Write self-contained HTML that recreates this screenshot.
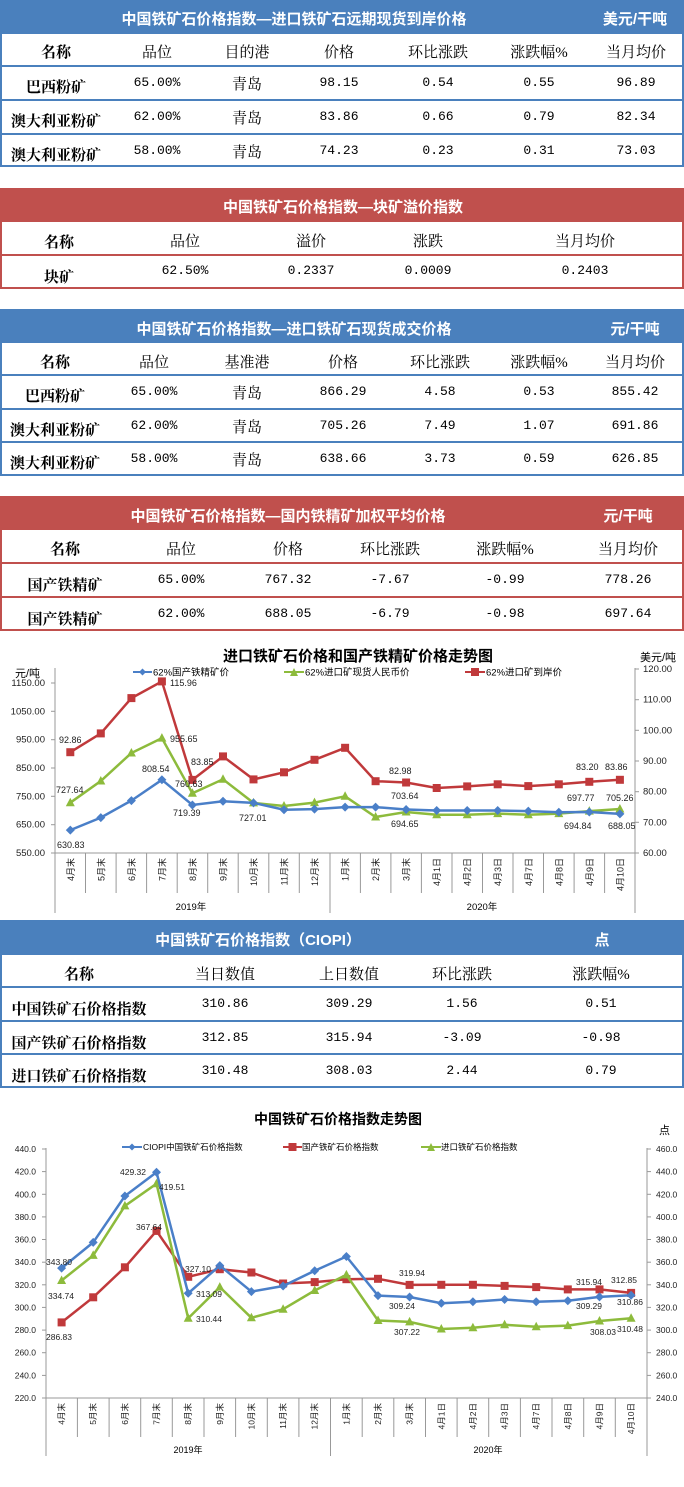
<!DOCTYPE html>
<html><head><meta charset="utf-8">
<style>
*{margin:0;padding:0;box-sizing:border-box}
body{width:684px;height:1487px;background:#fff;position:relative;overflow:hidden;font-family:"Liberation Serif","Noto Serif CJK SC",serif}
.t{position:absolute;left:0;width:684px}
.hd{position:absolute;left:0;width:684px;color:#fff;font-family:"Liberation Sans","Noto Sans CJK SC",sans-serif;font-weight:bold;font-size:15px}
.c{position:absolute;transform:translateX(-50%);white-space:nowrap}
.row{position:absolute;left:0;width:684px;font-size:15px;color:#000}
.b{font-weight:bold}
.n{font-family:"Liberation Mono",monospace;font-size:13px}
svg text{font-family:"Liberation Sans","Noto Sans CJK SC",sans-serif}
</style></head><body>

<!-- Table 1 -->
<div class="t" style="top:0;height:167px;border:2px solid #4a80bd;border-top:none"></div>
<div class="hd" style="top:0;height:34px;background:#4a80bd"><span class="c" style="left:294px;top:8px">中国铁矿石价格指数—进口铁矿石远期现货到岸价格</span><span class="c" style="left:635px;top:8px">美元/干吨</span></div>
<div class="row" style="top:34px;height:33px;border-bottom:2px solid #4a80bd"><span class="c b" style="left:56px;top:7px">名称</span><span class="c" style="left:157px;top:7px">品位</span><span class="c" style="left:247px;top:7px">目的港</span><span class="c" style="left:339px;top:7px">价格</span><span class="c" style="left:438px;top:7px">环比涨跌</span><span class="c" style="left:539px;top:7px">涨跌幅%</span><span class="c" style="left:636px;top:7px">当月均价</span></div>
<div class="row" style="top:67px;height:34px;border-bottom:2px solid #4a80bd"><span class="c b" style="left:56px;top:9px">巴西粉矿</span><span class="c n" style="left:157px;top:8px">65.00%</span><span class="c" style="left:247px;top:6px">青岛</span><span class="c n" style="left:339px;top:8px">98.15</span><span class="c n" style="left:438px;top:8px">0.54</span><span class="c n" style="left:539px;top:8px">0.55</span><span class="c n" style="left:636px;top:8px">96.89</span></div>
<div class="row" style="top:101px;height:34px;border-bottom:2px solid #4a80bd"><span class="c b" style="left:56px;top:9px">澳大利亚粉矿</span><span class="c n" style="left:157px;top:8px">62.00%</span><span class="c" style="left:247px;top:6px">青岛</span><span class="c n" style="left:339px;top:8px">83.86</span><span class="c n" style="left:438px;top:8px">0.66</span><span class="c n" style="left:539px;top:8px">0.79</span><span class="c n" style="left:636px;top:8px">82.34</span></div>
<div class="row" style="top:135px;height:32px"><span class="c b" style="left:56px;top:9px">澳大利亚粉矿</span><span class="c n" style="left:157px;top:8px">58.00%</span><span class="c" style="left:247px;top:6px">青岛</span><span class="c n" style="left:339px;top:8px">74.23</span><span class="c n" style="left:438px;top:8px">0.23</span><span class="c n" style="left:539px;top:8px">0.31</span><span class="c n" style="left:636px;top:8px">73.03</span></div>

<!-- Table 2 -->
<div class="t" style="top:188px;height:101px;border:2px solid #c0504d;border-top:none"></div>
<div class="hd" style="top:188px;height:34px;background:#c0504d"><span class="c" style="left:343px;top:8px">中国铁矿石价格指数—块矿溢价指数</span></div>
<div class="row" style="top:222px;height:34px;border-bottom:2px solid #c0504d"><span class="c b" style="left:59px;top:9px">名称</span><span class="c" style="left:185px;top:8px">品位</span><span class="c" style="left:311px;top:8px">溢价</span><span class="c" style="left:428px;top:8px">涨跌</span><span class="c" style="left:585px;top:8px">当月均价</span></div>
<div class="row" style="top:256px;height:33px"><span class="c b" style="left:59px;top:10px">块矿</span><span class="c n" style="left:185px;top:7px">62.50%</span><span class="c n" style="left:311px;top:7px">0.2337</span><span class="c n" style="left:428px;top:7px">0.0009</span><span class="c n" style="left:585px;top:7px">0.2403</span></div>

<!-- Table 3 -->
<div class="t" style="top:309px;height:167px;border:2px solid #4a80bd;border-top:none"></div>
<div class="hd" style="top:309px;height:34px;background:#4a80bd"><span class="c" style="left:294px;top:9px">中国铁矿石价格指数—进口铁矿石现货成交价格</span><span class="c" style="left:635px;top:9px">元/干吨</span></div>
<div class="row" style="top:343px;height:33px;border-bottom:2px solid #4a80bd"><span class="c b" style="left:55px;top:8px">名称</span><span class="c" style="left:154px;top:8px">品位</span><span class="c" style="left:247px;top:8px">基准港</span><span class="c" style="left:343px;top:8px">价格</span><span class="c" style="left:440px;top:8px">环比涨跌</span><span class="c" style="left:539px;top:8px">涨跌幅%</span><span class="c" style="left:635px;top:8px">当月均价</span></div>
<div class="row" style="top:376px;height:34px;border-bottom:2px solid #4a80bd"><span class="c b" style="left:55px;top:9px">巴西粉矿</span><span class="c n" style="left:154px;top:8px">65.00%</span><span class="c" style="left:247px;top:6px">青岛</span><span class="c n" style="left:343px;top:8px">866.29</span><span class="c n" style="left:440px;top:8px">4.58</span><span class="c n" style="left:539px;top:8px">0.53</span><span class="c n" style="left:635px;top:8px">855.42</span></div>
<div class="row" style="top:410px;height:33px;border-bottom:2px solid #4a80bd"><span class="c b" style="left:55px;top:9px">澳大利亚粉矿</span><span class="c n" style="left:154px;top:8px">62.00%</span><span class="c" style="left:247px;top:6px">青岛</span><span class="c n" style="left:343px;top:8px">705.26</span><span class="c n" style="left:440px;top:8px">7.49</span><span class="c n" style="left:539px;top:8px">1.07</span><span class="c n" style="left:635px;top:8px">691.86</span></div>
<div class="row" style="top:443px;height:33px"><span class="c b" style="left:55px;top:9px">澳大利亚粉矿</span><span class="c n" style="left:154px;top:8px">58.00%</span><span class="c" style="left:247px;top:6px">青岛</span><span class="c n" style="left:343px;top:8px">638.66</span><span class="c n" style="left:440px;top:8px">3.73</span><span class="c n" style="left:539px;top:8px">0.59</span><span class="c n" style="left:635px;top:8px">626.85</span></div>

<!-- Table 4 -->
<div class="t" style="top:496px;height:135px;border:2px solid #c0504d;border-top:none"></div>
<div class="hd" style="top:496px;height:34px;background:#c0504d"><span class="c" style="left:288px;top:9px">中国铁矿石价格指数—国内铁精矿加权平均价格</span><span class="c" style="left:628px;top:9px">元/干吨</span></div>
<div class="row" style="top:530px;height:34px;border-bottom:2px solid #c0504d"><span class="c b" style="left:65px;top:8px">名称</span><span class="c" style="left:181px;top:8px">品位</span><span class="c" style="left:288px;top:8px">价格</span><span class="c" style="left:390px;top:8px">环比涨跌</span><span class="c" style="left:505px;top:8px">涨跌幅%</span><span class="c" style="left:628px;top:8px">当月均价</span></div>
<div class="row" style="top:564px;height:34px;border-bottom:2px solid #c0504d"><span class="c b" style="left:65px;top:10px">国产铁精矿</span><span class="c n" style="left:181px;top:8px">65.00%</span><span class="c n" style="left:288px;top:8px">767.32</span><span class="c n" style="left:390px;top:8px">-7.67</span><span class="c n" style="left:505px;top:8px">-0.99</span><span class="c n" style="left:628px;top:8px">778.26</span></div>
<div class="row" style="top:598px;height:33px"><span class="c b" style="left:65px;top:10px">国产铁精矿</span><span class="c n" style="left:181px;top:8px">62.00%</span><span class="c n" style="left:288px;top:8px">688.05</span><span class="c n" style="left:390px;top:8px">-6.79</span><span class="c n" style="left:505px;top:8px">-0.98</span><span class="c n" style="left:628px;top:8px">697.64</span></div>

<!-- Table 5 -->
<div class="t" style="top:920px;height:168px;border:2px solid #4a80bd;border-top:none"></div>
<div class="hd" style="top:920px;height:35px;background:#4a80bd"><span class="c" style="left:258px;top:9px">中国铁矿石价格指数（CIOPI）</span><span class="c" style="left:602px;top:9px">点</span></div>
<div class="row" style="top:955px;height:33px;border-bottom:2px solid #4a80bd"><span class="c b" style="left:79px;top:8px">名称</span><span class="c" style="left:225px;top:8px">当日数值</span><span class="c" style="left:349px;top:8px">上日数值</span><span class="c" style="left:462px;top:8px">环比涨跌</span><span class="c" style="left:601px;top:8px">涨跌幅%</span></div>
<div class="row" style="top:988px;height:34px;border-bottom:2px solid #4a80bd"><span class="c b" style="left:79px;top:10px">中国铁矿石价格指数</span><span class="c n" style="left:225px;top:8px">310.86</span><span class="c n" style="left:349px;top:8px">309.29</span><span class="c n" style="left:462px;top:8px">1.56</span><span class="c n" style="left:601px;top:8px">0.51</span></div>
<div class="row" style="top:1022px;height:33px;border-bottom:2px solid #4a80bd"><span class="c b" style="left:79px;top:10px">国产铁矿石价格指数</span><span class="c n" style="left:225px;top:8px">312.85</span><span class="c n" style="left:349px;top:8px">315.94</span><span class="c n" style="left:462px;top:8px">-3.09</span><span class="c n" style="left:601px;top:8px">-0.98</span></div>
<div class="row" style="top:1055px;height:33px"><span class="c b" style="left:79px;top:10px">进口铁矿石价格指数</span><span class="c n" style="left:225px;top:8px">310.48</span><span class="c n" style="left:349px;top:8px">308.03</span><span class="c n" style="left:462px;top:8px">2.44</span><span class="c n" style="left:601px;top:8px">0.79</span></div>

<svg width="684" height="1487" style="position:absolute;left:0;top:0" xmlns="http://www.w3.org/2000/svg">
<defs>
<marker id="dB" markerWidth="10" markerHeight="10" refX="5" refY="5" markerUnits="userSpaceOnUse"><path d="M5 0.5L9.5 5L5 9.5L0.5 5Z" fill="#4a7fc8"/></marker>
<marker id="sR" markerWidth="10" markerHeight="10" refX="5" refY="5" markerUnits="userSpaceOnUse"><rect x="1" y="1" width="8" height="8" fill="#c0393b"/></marker>
<marker id="tG" markerWidth="10" markerHeight="10" refX="5" refY="5.5" markerUnits="userSpaceOnUse"><path d="M5 0.5L9.5 9L0.5 9Z" fill="#8dbb3c"/></marker>
</defs>

<!-- Chart 1 -->
<text x="358" y="661" font-size="15" font-weight="bold" text-anchor="middle" font-family="Liberation Serif,Noto Serif CJK SC,serif">进口铁矿石价格和国产铁精矿价格走势图</text>
<text x="15" y="677" font-size="11">元/吨</text>
<text x="640" y="661" font-size="11">美元/吨</text>
<g font-size="9.5">
<line x1="133" y1="672" x2="152" y2="672" stroke="#4a7fc8" stroke-width="2"/><path d="M142.5 668.5L146 672L142.5 675.5L139 672Z" fill="#4a7fc8"/><text x="153" y="675.5">62%国产铁精矿价</text>
<line x1="284" y1="672" x2="304" y2="672" stroke="#8dbb3c" stroke-width="2"/><path d="M294 668L298 676L290 676Z" fill="#8dbb3c"/><text x="305" y="675.5">62%进口矿现货人民币价</text>
<line x1="465" y1="672" x2="485" y2="672" stroke="#c0393b" stroke-width="2"/><rect x="471" y="668" width="8" height="8" fill="#c0393b"/><text x="486" y="675.5">62%进口矿到岸价</text>
</g>
<g font-size="9.5" fill="#222" text-anchor="end">
<text x="45" y="856">550.00</text><text x="45" y="827.7">650.00</text><text x="45" y="799.3">750.00</text><text x="45" y="771">850.00</text><text x="45" y="742.7">950.00</text><text x="45" y="714.3">1050.00</text><text x="45" y="686">1150.00</text>
</g>
<g font-size="9.5" fill="#222">
<text x="643" y="856">60.00</text><text x="643" y="825.3">70.00</text><text x="643" y="794.7">80.00</text><text x="643" y="764">90.00</text><text x="643" y="733.3">100.00</text><text x="643" y="702.7">110.00</text><text x="643" y="672">120.00</text>
</g>
<g stroke="#999" stroke-width="1">
<line x1="55" y1="668" x2="55" y2="913"/><line x1="635" y1="668" x2="635" y2="913"/><line x1="55" y1="853" x2="635" y2="853"/>
<line x1="330" y1="853" x2="330" y2="913"/>
<line x1="85.5" y1="853" x2="85.5" y2="893"/><line x1="116.1" y1="853" x2="116.1" y2="893"/><line x1="146.6" y1="853" x2="146.6" y2="893"/><line x1="177.2" y1="853" x2="177.2" y2="893"/><line x1="207.7" y1="853" x2="207.7" y2="893"/><line x1="238.2" y1="853" x2="238.2" y2="893"/><line x1="268.8" y1="853" x2="268.8" y2="893"/><line x1="299.3" y1="853" x2="299.3" y2="893"/><line x1="360.4" y1="853" x2="360.4" y2="893"/><line x1="390.9" y1="853" x2="390.9" y2="893"/><line x1="421.4" y1="853" x2="421.4" y2="893"/><line x1="452" y1="853" x2="452" y2="893"/><line x1="482.5" y1="853" x2="482.5" y2="893"/><line x1="513" y1="853" x2="513" y2="893"/><line x1="543.5" y1="853" x2="543.5" y2="893"/><line x1="574.1" y1="853" x2="574.1" y2="893"/><line x1="604.6" y1="853" x2="604.6" y2="893"/>
<line x1="51" y1="853" x2="55" y2="853"/><line x1="51" y1="824.7" x2="55" y2="824.7"/><line x1="51" y1="796.3" x2="55" y2="796.3"/><line x1="51" y1="768" x2="55" y2="768"/><line x1="51" y1="739.7" x2="55" y2="739.7"/><line x1="51" y1="711.3" x2="55" y2="711.3"/><line x1="51" y1="683" x2="55" y2="683"/>
<line x1="635" y1="853" x2="639" y2="853"/><line x1="635" y1="822.3" x2="639" y2="822.3"/><line x1="635" y1="791.7" x2="639" y2="791.7"/><line x1="635" y1="761" x2="639" y2="761"/><line x1="635" y1="730.3" x2="639" y2="730.3"/><line x1="635" y1="699.7" x2="639" y2="699.7"/><line x1="635" y1="669" x2="639" y2="669"/>
</g>
<g font-size="9" fill="#222" text-anchor="end">
<text transform="translate(73.8,858) rotate(-90)">4月末</text><text transform="translate(104.3,858) rotate(-90)">5月末</text><text transform="translate(134.9,858) rotate(-90)">6月末</text><text transform="translate(165.4,858) rotate(-90)">7月末</text><text transform="translate(195.9,858) rotate(-90)">8月末</text><text transform="translate(226.5,858) rotate(-90)">9月末</text><text transform="translate(257,858) rotate(-90)">10月末</text><text transform="translate(287.5,858) rotate(-90)">11月末</text><text transform="translate(318,858) rotate(-90)">12月末</text><text transform="translate(348.6,858) rotate(-90)">1月末</text><text transform="translate(379.1,858) rotate(-90)">2月末</text><text transform="translate(409.6,858) rotate(-90)">3月末</text><text transform="translate(440.2,858) rotate(-90)">4月1日</text><text transform="translate(470.7,858) rotate(-90)">4月2日</text><text transform="translate(501.2,858) rotate(-90)">4月3日</text><text transform="translate(531.8,858) rotate(-90)">4月7日</text><text transform="translate(562.3,858) rotate(-90)">4月8日</text><text transform="translate(592.8,858) rotate(-90)">4月9日</text><text transform="translate(623.4,858) rotate(-90)">4月10日</text>
</g>
<text x="191" y="910" font-size="9.5" text-anchor="middle">2019年</text>
<text x="482" y="910" font-size="9.5" text-anchor="middle">2020年</text>
<g fill="none" stroke-width="2.5">
<polyline stroke="#c0393b" marker-start="url(#sR)" marker-mid="url(#sR)" marker-end="url(#sR)" points="70.3,752.2 100.8,733.4 131.4,698.1 161.9,681.4 192.4,779.9 223,756.4 253.5,779.4 284,772.3 314.5,759.8 345.1,747.8 375.6,781.2 406.1,782.5 436.7,788 467.2,786.4 497.7,784.3 528.3,786.1 558.8,784.3 589.3,781.8 619.9,779.8"/>
<polyline stroke="#8dbb3c" marker-start="url(#tG)" marker-mid="url(#tG)" marker-end="url(#tG)" points="70.3,802.7 100.8,781 131.4,753 161.9,738.1 192.4,793.3 223,779.3 253.5,802.9 284,806 314.5,802.6 345.1,796.3 375.6,817 406.1,812 436.7,814.8 467.2,814.8 497.7,813.6 528.3,814.8 558.8,813.6 589.3,811.1 619.9,809"/>
<polyline stroke="#4a7fc8" marker-start="url(#dB)" marker-mid="url(#dB)" marker-end="url(#dB)" points="70.3,830.1 100.8,817.6 131.4,800.6 161.9,779.8 192.4,805 223,801.2 253.5,802.9 284,809.7 314.5,809.1 345.1,807.1 375.6,807.1 406.1,809.5 436.7,810.5 467.2,810.5 497.7,810.5 528.3,811.1 558.8,812.2 589.3,812 619.9,813.9"/>
</g>
<g font-size="9" fill="#222">
<text x="59" y="743">92.86</text><text x="170" y="686">115.96</text><text x="56" y="793">727.64</text><text x="170" y="742">955.65</text><text x="142" y="772">808.54</text>
<text x="191" y="765">83.85</text><text x="175" y="787">760.63</text><text x="173" y="816">719.39</text><text x="239" y="821">727.01</text>
<text x="389" y="774">82.98</text><text x="391" y="799">703.64</text><text x="391" y="827">694.65</text>
<text x="576" y="770">83.20</text><text x="605" y="770">83.86</text><text x="567" y="801">697.77</text><text x="606" y="801">705.26</text>
<text x="564" y="829">694.84</text><text x="608" y="829">688.05</text><text x="57" y="848">630.83</text>
</g>

<!-- Chart 2 -->
<text x="338" y="1124" font-size="14" font-weight="bold" text-anchor="middle" font-family="Liberation Serif,Noto Serif CJK SC,serif">中国铁矿石价格指数走势图</text>
<text x="659" y="1134" font-size="11">点</text>
<g font-size="8.5">
<line x1="122" y1="1147" x2="142" y2="1147" stroke="#4a7fc8" stroke-width="2"/><path d="M132 1143.5L135.5 1147L132 1150.5L128.5 1147Z" fill="#4a7fc8"/><text x="143" y="1150">CIOPI中国铁矿石价格指数</text>
<line x1="283" y1="1147" x2="302" y2="1147" stroke="#c0393b" stroke-width="2"/><rect x="288.5" y="1143" width="8" height="8" fill="#c0393b"/><text x="302" y="1150">国产铁矿石价格指数</text>
<line x1="421" y1="1147" x2="441" y2="1147" stroke="#8dbb3c" stroke-width="2"/><path d="M431 1143L435 1151L427 1151Z" fill="#8dbb3c"/><text x="441" y="1150">进口铁矿石价格指数</text>
</g>
<g font-size="8.5" fill="#222" text-anchor="end">
<text x="36" y="1401">220.0</text><text x="36" y="1378.4">240.0</text><text x="36" y="1355.7">260.0</text><text x="36" y="1333.1">280.0</text><text x="36" y="1310.4">300.0</text><text x="36" y="1287.8">320.0</text><text x="36" y="1265.2">340.0</text><text x="36" y="1242.5">360.0</text><text x="36" y="1219.9">380.0</text><text x="36" y="1197.3">400.0</text><text x="36" y="1174.6">420.0</text><text x="36" y="1152">440.0</text>
</g>
<g font-size="8.5" fill="#222">
<text x="656" y="1401">240.0</text><text x="656" y="1378.4">260.0</text><text x="656" y="1355.7">280.0</text><text x="656" y="1333.1">300.0</text><text x="656" y="1310.4">320.0</text><text x="656" y="1287.8">340.0</text><text x="656" y="1265.2">360.0</text><text x="656" y="1242.5">380.0</text><text x="656" y="1219.9">400.0</text><text x="656" y="1197.3">420.0</text><text x="656" y="1174.6">440.0</text><text x="656" y="1152">460.0</text>
</g>
<g stroke="#999" stroke-width="1">
<line x1="46" y1="1148" x2="46" y2="1456"/><line x1="647" y1="1148" x2="647" y2="1456"/><line x1="46" y1="1398" x2="647" y2="1398"/>
<line x1="330.5" y1="1398" x2="330.5" y2="1456"/>
<line x1="77.4" y1="1398" x2="77.4" y2="1437"/><line x1="109.1" y1="1398" x2="109.1" y2="1437"/><line x1="140.7" y1="1398" x2="140.7" y2="1437"/><line x1="172.3" y1="1398" x2="172.3" y2="1437"/><line x1="204" y1="1398" x2="204" y2="1437"/><line x1="235.6" y1="1398" x2="235.6" y2="1437"/><line x1="267.3" y1="1398" x2="267.3" y2="1437"/><line x1="298.9" y1="1398" x2="298.9" y2="1437"/><line x1="362.2" y1="1398" x2="362.2" y2="1437"/><line x1="393.8" y1="1398" x2="393.8" y2="1437"/><line x1="425.5" y1="1398" x2="425.5" y2="1437"/><line x1="457.1" y1="1398" x2="457.1" y2="1437"/><line x1="488.7" y1="1398" x2="488.7" y2="1437"/><line x1="520.4" y1="1398" x2="520.4" y2="1437"/><line x1="552" y1="1398" x2="552" y2="1437"/><line x1="583.7" y1="1398" x2="583.7" y2="1437"/><line x1="615.3" y1="1398" x2="615.3" y2="1437"/>
<line x1="42" y1="1398" x2="46" y2="1398"/><line x1="42" y1="1375.4" x2="46" y2="1375.4"/><line x1="42" y1="1352.7" x2="46" y2="1352.7"/><line x1="42" y1="1330.1" x2="46" y2="1330.1"/><line x1="42" y1="1307.4" x2="46" y2="1307.4"/><line x1="42" y1="1284.8" x2="46" y2="1284.8"/><line x1="42" y1="1262.2" x2="46" y2="1262.2"/><line x1="42" y1="1239.5" x2="46" y2="1239.5"/><line x1="42" y1="1216.9" x2="46" y2="1216.9"/><line x1="42" y1="1194.3" x2="46" y2="1194.3"/><line x1="42" y1="1171.6" x2="46" y2="1171.6"/><line x1="42" y1="1149" x2="46" y2="1149"/>
<line x1="647" y1="1398" x2="651" y2="1398"/><line x1="647" y1="1375.4" x2="651" y2="1375.4"/><line x1="647" y1="1352.7" x2="651" y2="1352.7"/><line x1="647" y1="1330.1" x2="651" y2="1330.1"/><line x1="647" y1="1307.4" x2="651" y2="1307.4"/><line x1="647" y1="1284.8" x2="651" y2="1284.8"/><line x1="647" y1="1262.2" x2="651" y2="1262.2"/><line x1="647" y1="1239.5" x2="651" y2="1239.5"/><line x1="647" y1="1216.9" x2="651" y2="1216.9"/><line x1="647" y1="1194.3" x2="651" y2="1194.3"/><line x1="647" y1="1171.6" x2="651" y2="1171.6"/><line x1="647" y1="1149" x2="651" y2="1149"/>
</g>
<g font-size="8.5" fill="#222" text-anchor="end">
<text transform="translate(64.6,1403) rotate(-90)">4月末</text><text transform="translate(96.2,1403) rotate(-90)">5月末</text><text transform="translate(127.9,1403) rotate(-90)">6月末</text><text transform="translate(159.5,1403) rotate(-90)">7月末</text><text transform="translate(191.2,1403) rotate(-90)">8月末</text><text transform="translate(222.8,1403) rotate(-90)">9月末</text><text transform="translate(254.4,1403) rotate(-90)">10月末</text><text transform="translate(286.1,1403) rotate(-90)">11月末</text><text transform="translate(317.7,1403) rotate(-90)">12月末</text><text transform="translate(349.4,1403) rotate(-90)">1月末</text><text transform="translate(381,1403) rotate(-90)">2月末</text><text transform="translate(412.6,1403) rotate(-90)">3月末</text><text transform="translate(444.3,1403) rotate(-90)">4月1日</text><text transform="translate(475.9,1403) rotate(-90)">4月2日</text><text transform="translate(507.6,1403) rotate(-90)">4月3日</text><text transform="translate(539.2,1403) rotate(-90)">4月7日</text><text transform="translate(570.8,1403) rotate(-90)">4月8日</text><text transform="translate(602.5,1403) rotate(-90)">4月9日</text><text transform="translate(634.1,1403) rotate(-90)">4月10日</text>
</g>
<text x="188" y="1453" font-size="9" text-anchor="middle">2019年</text>
<text x="488" y="1453" font-size="9" text-anchor="middle">2020年</text>
<g fill="none" stroke-width="2.5">
<polyline stroke="#c0393b" marker-start="url(#sR)" marker-mid="url(#sR)" marker-end="url(#sR)" points="61.6,1322.4 93.2,1297.3 124.9,1267.3 156.5,1230.9 188.2,1276.8 219.8,1269.2 251.4,1272.5 283.1,1283.5 314.7,1282.1 346.4,1279.2 378,1278.8 409.6,1284.9 441.3,1284.8 472.9,1284.8 504.6,1285.9 536.2,1287.1 567.8,1289.4 599.5,1289.4 631.1,1292.9"/>
<polyline stroke="#8dbb3c" marker-start="url(#tG)" marker-mid="url(#tG)" marker-end="url(#tG)" points="61.6,1280.5 93.2,1255.4 124.9,1205.9 156.5,1183.7 188.2,1318.3 219.8,1287.1 251.4,1317.8 283.1,1309.2 314.7,1290.5 346.4,1274.9 378,1320.5 409.6,1321.9 441.3,1329 472.9,1327.8 504.6,1324.8 536.2,1326.7 567.8,1325.6 599.5,1321 631.1,1318.2"/>
<polyline stroke="#4a7fc8" marker-start="url(#dB)" marker-mid="url(#dB)" marker-end="url(#dB)" points="61.6,1268.1 93.2,1242.4 124.9,1196 156.5,1172.2 188.2,1293.3 219.8,1265.6 251.4,1291.6 283.1,1286 314.7,1270.7 346.4,1256.5 378,1295.6 409.6,1297 441.3,1303.2 472.9,1301.8 504.6,1299.5 536.2,1301.8 567.8,1300.7 599.5,1296.9 631.1,1295.2"/>
</g>
<g font-size="8.5" fill="#222">
<text x="46" y="1265">343.80</text><text x="48" y="1299">334.74</text><text x="46" y="1340">286.83</text>
<text x="120" y="1175">429.32</text><text x="159" y="1190">419.51</text><text x="136" y="1230">367.64</text>
<text x="185" y="1272">327.10</text><text x="196" y="1297">313.09</text><text x="196" y="1322">310.44</text>
<text x="399" y="1276">319.94</text><text x="389" y="1309">309.24</text><text x="394" y="1335">307.22</text>
<text x="576" y="1285">315.94</text><text x="611" y="1283">312.85</text><text x="576" y="1309">309.29</text><text x="617" y="1305">310.86</text>
<text x="590" y="1335">308.03</text><text x="617" y="1332">310.48</text>
</g>
</svg>
</body></html>
